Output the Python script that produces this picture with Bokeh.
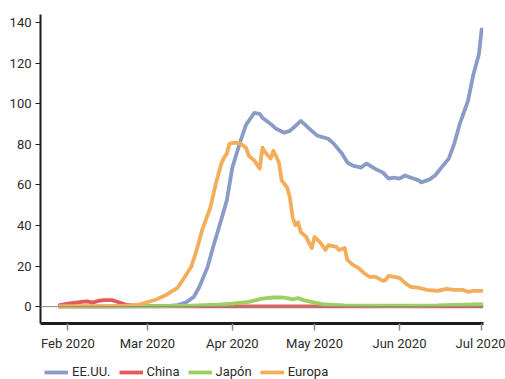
import pandas as pd
from bokeh.plotting import figure
from bokeh.layouts import column
from bokeh.models import (DatetimeTickFormatter, FixedTicker, Range1d, Span,
                          Legend, LegendItem)
from bokeh.embed import file_html
from bokeh.resources import INLINE

# ---------------- data ----------------
us_dates = ["2020-01-29", "2020-02-15", "2020-03-01", "2020-03-08", "2020-03-12",
            "2020-03-15", "2020-03-18", "2020-03-20", "2020-03-23", "2020-03-25",
            "2020-03-28", "2020-03-30", "2020-04-01", "2020-04-04", "2020-04-06",
            "2020-04-09", "2020-04-11", "2020-04-12", "2020-04-15", "2020-04-17",
            "2020-04-20", "2020-04-22", "2020-04-24", "2020-04-26", "2020-04-28",
            "2020-04-30", "2020-05-02", "2020-05-06", "2020-05-08", "2020-05-11",
            "2020-05-13", "2020-05-15", "2020-05-18", "2020-05-20", "2020-05-23",
            "2020-05-26", "2020-05-28", "2020-05-30", "2020-06-01", "2020-06-03",
            "2020-06-05", "2020-06-08", "2020-06-09", "2020-06-12", "2020-06-14",
            "2020-06-16", "2020-06-19", "2020-06-21", "2020-06-23", "2020-06-26",
            "2020-06-28", "2020-06-30", "2020-07-01"]
us_values = [0.0, 0.05, 0.1, 0.3, 0.8,
             2.0, 4.9, 9.8, 19.6, 29.4,
             43.0, 52.4, 68.5, 81.7, 89.5,
             95.4, 95.0, 93.0, 90.0, 87.6,
             85.7, 86.6, 89.0, 91.5, 89.0,
             86.6, 84.2, 82.7, 80.3, 75.4,
             71.0, 69.5, 68.5, 70.5, 68.0,
             66.0, 63.1, 63.6, 63.1, 64.6,
             63.6, 62.2, 61.2, 62.7, 64.6,
             68.0, 72.9, 80.3, 90.0, 101.3,
             114.5, 124.3, 136.6]

china_dates = ["2020-01-29", "2020-02-01", "2020-02-06", "2020-02-08", "2020-02-10",
               "2020-02-12", "2020-02-14", "2020-02-17", "2020-02-19", "2020-02-22",
               "2020-02-26", "2020-03-05", "2020-04-01", "2020-07-01"]
china_values = [0.8, 1.5, 2.3, 2.6, 2.0,
                2.8, 3.2, 3.2, 2.4, 1.0,
                0.4, 0.2, 0.1, 0.1]

japan_dates = ["2020-01-29", "2020-03-01", "2020-03-17", "2020-03-27", "2020-04-01",
               "2020-04-07", "2020-04-12", "2020-04-16", "2020-04-19", "2020-04-21",
               "2020-04-23", "2020-04-25", "2020-04-27", "2020-05-01", "2020-05-04",
               "2020-05-08", "2020-05-12", "2020-06-01", "2020-06-15", "2020-07-01"]
japan_values = [0.1, 0.2, 0.5, 1.0, 1.5,
                2.4, 4.0, 4.5, 4.6, 4.2,
                3.6, 4.2, 3.2, 2.0, 1.2,
                0.9, 0.6, 0.5, 0.6, 1.2]

europe_dates = ["2020-01-29", "2020-02-10", "2020-02-20", "2020-02-27", "2020-03-04",
                "2020-03-08", "2020-03-12", "2020-03-14", "2020-03-17", "2020-03-19",
                "2020-03-21", "2020-03-24", "2020-03-26", "2020-03-28", "2020-03-29",
                "2020-03-30", "2020-03-31", "2020-04-02", "2020-04-04", "2020-04-06",
                "2020-04-07", "2020-04-09", "2020-04-11", "2020-04-12", "2020-04-13",
                "2020-04-14", "2020-04-15", "2020-04-16", "2020-04-17", "2020-04-18",
                "2020-04-19", "2020-04-21", "2020-04-22", "2020-04-23", "2020-04-24",
                "2020-04-25", "2020-04-26", "2020-04-28", "2020-04-29", "2020-04-30",
                "2020-05-01", "2020-05-03", "2020-05-05", "2020-05-06", "2020-05-09",
                "2020-05-10", "2020-05-12", "2020-05-13", "2020-05-15", "2020-05-17",
                "2020-05-19", "2020-05-21", "2020-05-23", "2020-05-24", "2020-05-26",
                "2020-05-27", "2020-05-28", "2020-05-30", "2020-06-01", "2020-06-03",
                "2020-06-05", "2020-06-08", "2020-06-11", "2020-06-15", "2020-06-18",
                "2020-06-21", "2020-06-24", "2020-06-26", "2020-06-28", "2020-07-01"]
europe_values = [0.1, 0.1, 0.3, 1.0, 3.4,
                 5.9, 9.3, 13.2, 19.6, 27.9,
                 37.7, 48.9, 60.7, 70.5, 73.4,
                 75.4, 80.3, 80.8, 80.3, 78.3,
                 74.4, 72.0, 68.0, 78.3, 76.0,
                 74.5, 72.9, 76.8, 74.0, 71.0,
                 62.2, 58.7, 53.8, 44.0, 40.1,
                 41.6, 36.7, 34.3, 31.3, 28.9,
                 34.3, 31.8, 27.9, 30.3, 29.4,
                 27.9, 28.9, 23.0, 20.6, 19.1,
                 16.6, 14.7, 14.7, 14.2, 12.7,
                 13.2, 15.2, 14.7, 14.2, 11.7,
                 9.8, 9.3, 8.3, 7.8, 8.8,
                 8.3, 8.3, 7.3, 7.8, 7.8]

series_names = ["EE.UU.", "China", "Japón", "Europa"]
series_colors = ["#8a9cc6", "#e35a5a", "#9dd062", "#f4ad5a"]

tick_dates = ["2020-02-01", "2020-03-01", "2020-04-01", "2020-05-01",
              "2020-06-01", "2020-07-01"]
y_ticks = [0, 20, 40, 60, 80, 100, 120, 140]

# ---------------- figure ----------------
FONT = "Roboto"


def ms(d):
    return pd.Timestamp(d).value / 1e6


p = figure(width=505, height=357, output_backend="svg",
           toolbar_location=None, x_axis_type="datetime",
           x_range=Range1d(ms("2020-01-22"), ms("2020-07-01 16:00")),
           y_range=Range1d(-8.3, 143.9),
           min_border_left=40, min_border_right=22, min_border_top=14,
           min_border_bottom=34)
p.outline_line_color = None
p.grid.visible = False
p.background_fill_color = "white"
p.border_fill_color = "white"

zero = Span(location=0, dimension="width", line_color="#8a8a8a", line_width=1)
p.add_layout(zero)

all_dates = [us_dates, china_dates, japan_dates, europe_dates]
all_values = [us_values, china_values, japan_values, europe_values]
for dts, vals, col in zip(all_dates, all_values, series_colors):
    p.line(pd.to_datetime(dts), vals, line_color=col, line_width=3.8,
           line_join="round", line_cap="round")

# axes
p.xaxis.ticker = FixedTicker(ticks=[ms(d) for d in tick_dates])
fmt = "%b %Y"
p.xaxis.formatter = DatetimeTickFormatter(
    milliseconds=fmt, seconds=fmt, minsec=fmt, minutes=fmt, hourmin=fmt,
    hours=fmt, days=fmt, months=fmt, years=fmt, context=None)
p.yaxis.ticker = FixedTicker(ticks=y_ticks)

for ax in (p.xaxis[0], p.yaxis[0]):
    ax.axis_line_color = "#1c1c1c"
    ax.major_label_text_font = FONT
    ax.major_label_text_font_size = "13px"
    ax.major_label_text_color = "#2b2b2b"
    ax.minor_tick_line_color = None
    ax.major_tick_in = 0

p.xaxis.axis_line_width = 3
p.xaxis.major_tick_out = 7
p.xaxis.major_tick_line_color = "#8a8a8a"
p.xaxis.major_tick_line_width = 1.5
p.xaxis.major_label_standoff = 5

p.yaxis.axis_line_width = 2
p.yaxis.major_tick_out = 5
p.yaxis.major_tick_line_color = "#1c1c1c"
p.yaxis.major_label_standoff = 4

# ---------------- legend strip ----------------
lg = figure(width=505, height=22, output_backend="svg", toolbar_location=None,
            x_range=Range1d(0, 1), y_range=Range1d(0, 1),
            min_border=0, min_border_left=0, min_border_right=0,
            min_border_top=0, min_border_bottom=0)
lg.axis.visible = False
lg.grid.visible = False
lg.outline_line_color = None
lg.border_fill_color = "white"
lg.background_fill_color = "white"
swatches = []
for col in series_colors:
    # off-screen sample line used only for the legend swatch
    swatches.append(lg.line([5, 6], [5, 6], line_color=col, line_width=3.8))

legend = Legend(items=[LegendItem(label=n, renderers=[r])
                       for n, r in zip(series_names, swatches)],
                orientation="horizontal", location=(4, 0))
legend.label_text_font = FONT
legend.label_text_font_size = "13px"
legend.label_text_color = "#2b2b2b"
legend.border_line_color = None
legend.background_fill_alpha = 0
legend.glyph_width = 24
legend.glyph_height = 14
legend.label_height = 14
legend.label_standoff = 4
legend.spacing = 8
legend.padding = 2
legend.margin = 0
lg.add_layout(legend, "center")

layout = column(p, lg, spacing=0)
open("out.html", "w").write(file_html(layout, INLINE))
